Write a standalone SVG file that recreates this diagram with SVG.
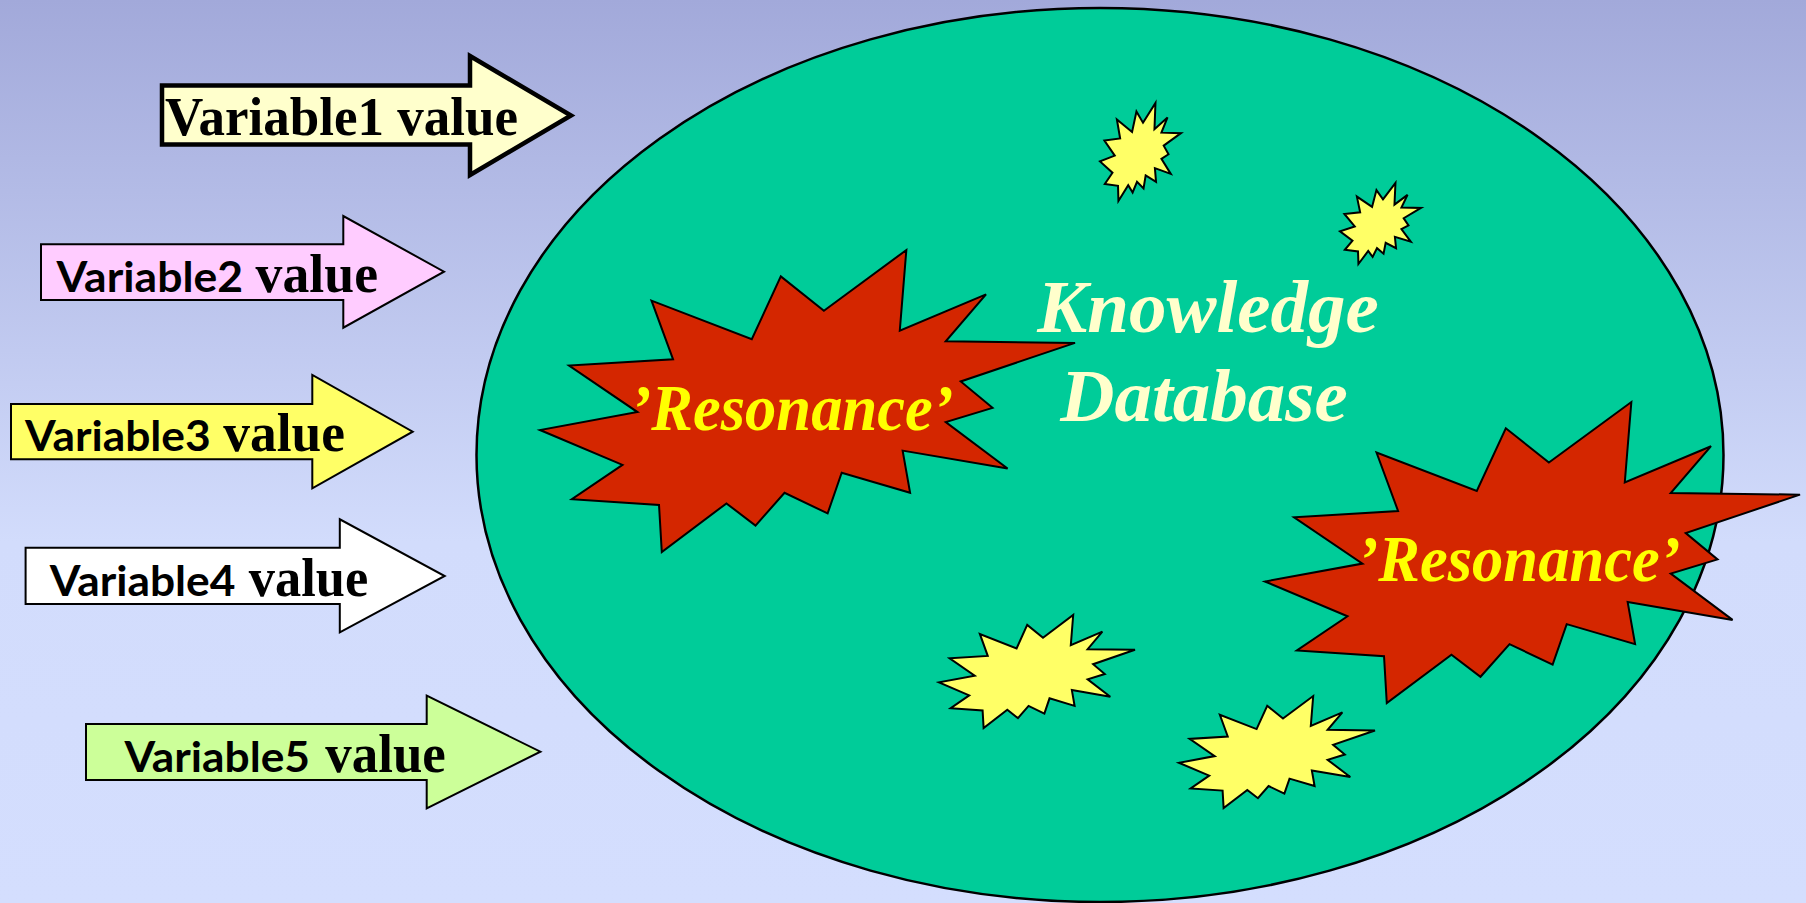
<svg xmlns="http://www.w3.org/2000/svg" xmlns:xlink="http://www.w3.org/1999/xlink" width="1806" height="903" viewBox="0 0 1806 903">
  <defs>
    <linearGradient id="bg" x1="0" y1="0" x2="0" y2="1">
      <stop offset="0" stop-color="#A2A9DA"/>
      <stop offset="0.6" stop-color="#D2DCFC"/>
      <stop offset="1" stop-color="#D4DEFE"/>
    </linearGradient>
    <!-- explosion outline in a 216 x 216 box -->
    <path id="burst" d="M114.62,43.42 L147.90,0 L145.25,57.77 L180.07,31.72 L163.80,65.32 L216,66.45 L169.85,94.02 L182.70,112.90 L163.80,123.10 L188.77,156.32 L146.40,143.50 L149.42,173.70 L121.80,159.35 L116.12,188.42 L98.72,173.70 L87.00,197.12 L75.27,181.25 L49.17,216 L48.05,182.40 L12.85,178.25 L33.30,153.70 L0,128.77 L39.35,115.92 L11.72,82.70 L53.72,78.17 L45.02,36.25 L85.50,63.82 L97.22,18.87 Z" vector-effect="non-scaling-stroke"/>
  </defs>
  <style>
    .arrow { stroke: #000; stroke-width: 2; stroke-linejoin: miter; }
    .arrow.heavy { stroke-width: 4.5; }
    .sans { font-family: Lato, "Open Sans", "Liberation Sans", sans-serif; font-weight: bold; font-size: 42px; fill: #000; }
    .serif { font-family: "Liberation Serif", "Times New Roman", serif; font-weight: bold; font-size: 55px; fill: #000; }
    .bi { font-family: "Liberation Serif", "Times New Roman", serif; font-weight: bold; font-style: italic; }
    .kb { font-size: 75px; fill: #FFFFCC; }
    .res { font-size: 65px; fill: #FFFF00; }
    .red { fill: #D42600; stroke: #000; stroke-width: 2; }
    .yel { fill: #FFFF66; stroke: #000; stroke-width: 2; }
  </style>

  <rect x="0" y="0" width="1806" height="903" fill="url(#bg)"/>

  <g id="knowledge-database">
    <ellipse cx="1100" cy="455" rx="623.5" ry="447" fill="#00CC99" stroke="#000" stroke-width="2.5"/>
    <text class="bi kb" x="1208" y="332" text-anchor="middle">Knowledge</text>
    <text class="bi kb" x="1204" y="421" text-anchor="middle">Database</text>
  </g>

  <g id="spark1"><use xlink:href="#burst" class="yel" transform="translate(1100,103) scale(0.375,0.4537)"/></g>
  <g id="spark2"><use xlink:href="#burst" class="yel" transform="translate(1340,183) scale(0.375,0.375)"/></g>
  <g id="spark3"><use xlink:href="#burst" class="yel" transform="translate(939,615) scale(0.9074,0.5231)"/></g>
  <g id="spark4"><use xlink:href="#burst" class="yel" transform="translate(1179,696) scale(0.9074,0.5185)"/></g>

  <g id="resonance1">
    <use xlink:href="#burst" class="red" transform="translate(540,250) scale(2.477,1.398)"/>
    <text class="bi res" x="792" y="430" text-anchor="middle" textLength="323" lengthAdjust="spacingAndGlyphs">’Resonance’</text>
  </g>

  <g id="resonance2">
    <use xlink:href="#burst" class="red" transform="translate(1265,402) scale(2.477,1.394)"/>
    <text class="bi res" x="1519" y="581" text-anchor="middle" textLength="323" lengthAdjust="spacingAndGlyphs">’Resonance’</text>
  </g>

  <g id="connectors">
    <g id="variable1">
      <path class="arrow heavy" d="M162,85.5 H470 V56 L571,115.5 L470,175 V144.5 H162 Z" fill="#FFFFCC"/>
      <text class="serif" x="165" y="135" textLength="353" lengthAdjust="spacingAndGlyphs">Variable1 value</text>
    </g>
    <g id="variable2">
      <path class="arrow" d="M41,244.3 H343.3 V216 L444,271.7 L343.3,327.7 V300 H41 Z" fill="#FFCCFF"/>
      <text class="sans" x="56.6" y="291.7" textLength="186.4" lengthAdjust="spacingAndGlyphs">Variable2</text>
      <text class="serif" x="255.6" y="291.7" textLength="122.4" lengthAdjust="spacingAndGlyphs">value</text>
    </g>
    <g id="variable3">
      <path class="arrow" d="M11,404 H312.3 V375 L412.7,431.7 L312.3,488.3 V459.3 H11 Z" fill="#FFFF66"/>
      <text class="sans" x="25" y="451" textLength="185.7" lengthAdjust="spacingAndGlyphs">Variable3</text>
      <text class="serif" x="223.3" y="451" textLength="121.7" lengthAdjust="spacingAndGlyphs">value</text>
    </g>
    <g id="variable4">
      <path class="arrow" d="M25.6,547.7 H339.8 V519.3 L444.7,576 L339.8,632.3 V604 H25.6 Z" fill="#FFFFFF"/>
      <text class="sans" x="49.8" y="595.7" textLength="185.6" lengthAdjust="spacingAndGlyphs">Variable4</text>
      <text class="serif" x="248.8" y="595.7" textLength="119.4" lengthAdjust="spacingAndGlyphs">value</text>
    </g>
    <g id="variable5">
      <path class="arrow" d="M86,724 H426.7 V695.7 L540.4,751.7 L426.7,808.3 V780 H86 Z" fill="#CCFF99"/>
      <text class="sans" x="124.4" y="771.7" textLength="185.6" lengthAdjust="spacingAndGlyphs">Variable5</text>
      <text class="serif" x="325.3" y="771.7" textLength="120.5" lengthAdjust="spacingAndGlyphs">value</text>
    </g>
  </g>
</svg>
